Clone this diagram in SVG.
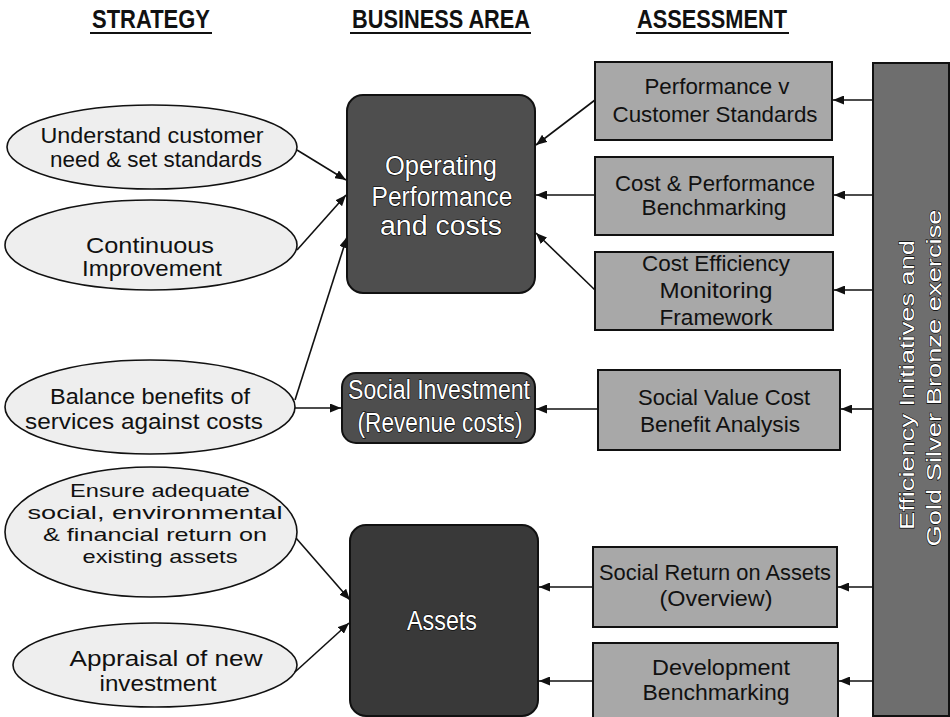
<svg xmlns="http://www.w3.org/2000/svg" width="950" height="717" viewBox="0 0 950 717">
  <style>
    .head { font-family: "Liberation Sans", Arial, sans-serif; font-weight: bold; font-size: 25px; fill: #111; text-anchor: middle; }
    .uline { stroke: #111; stroke-width: 2; }
    .strat { fill: #eeeeee; stroke: #111; stroke-width: 1.6; }
    .stxt { font-family: "Liberation Sans", Arial, sans-serif; font-size: 22px; fill: #111; text-anchor: middle; }
    .stxt4 { font-family: "Liberation Sans", Arial, sans-serif; font-size: 19px; fill: #111; text-anchor: middle; }
    .biz { stroke: #111; stroke-width: 2; }
    .btxt { font-family: "Liberation Sans", Arial, sans-serif; font-size: 27px; fill: #ffffff; stroke: #000; stroke-width: 1.2; paint-order: stroke; text-anchor: middle; }
    .assess { fill: #a8a8a8; stroke: #111; stroke-width: 2; }
    .atxt { font-family: "Liberation Sans", Arial, sans-serif; font-size: 22px; fill: #111; text-anchor: middle; }
    .bar { fill: #6e6e6e; stroke: #111; stroke-width: 2; }
    .vtxt { font-family: "Liberation Sans", Arial, sans-serif; font-size: 21px; fill: #ffffff; stroke: #000; stroke-width: 1; paint-order: stroke; text-anchor: middle; }
    .conn line { stroke: #111; stroke-width: 1.6; marker-end: url(#arrow); }
  </style>
  <defs>
    <marker id="arrow" markerUnits="userSpaceOnUse" markerWidth="11" markerHeight="9" refX="11" refY="4.5" orient="auto">
      <path d="M0,0 L11,4.5 L0,9 z" fill="#111"/>
    </marker>
  </defs>

  <rect x="0" y="0" width="950" height="717" fill="#ffffff"/>

  <!-- Headings -->
  <g id="headings">
    <text class="head" x="151" y="28" textLength="118" lengthAdjust="spacingAndGlyphs">STRATEGY</text>
    <line class="uline" x1="90" y1="33" x2="212" y2="33"/>
    <text class="head" x="441" y="28" textLength="178" lengthAdjust="spacingAndGlyphs">BUSINESS AREA</text>
    <line class="uline" x1="350" y1="33" x2="531" y2="33"/>
    <text class="head" x="712" y="28" textLength="150" lengthAdjust="spacingAndGlyphs">ASSESSMENT</text>
    <line class="uline" x1="636" y1="33" x2="789" y2="33"/>
  </g>

  <!-- Strategy nodes -->
  <g id="s1">
    <ellipse class="strat" cx="152" cy="147" rx="145" ry="42"/>
    <text class="stxt" x="152" y="143" textLength="223" lengthAdjust="spacingAndGlyphs">Understand customer</text>
    <text class="stxt" x="156" y="167" textLength="212" lengthAdjust="spacingAndGlyphs">need &amp; set standards</text>
  </g>
  <g id="s2">
    <ellipse class="strat" cx="151" cy="245" rx="146" ry="45"/>
    <text class="stxt" x="150" y="253" textLength="128" lengthAdjust="spacingAndGlyphs">Continuous</text>
    <text class="stxt" x="152" y="276" textLength="140" lengthAdjust="spacingAndGlyphs">Improvement</text>
  </g>
  <g id="s3">
    <ellipse class="strat" cx="150" cy="407" rx="145" ry="47"/>
    <text class="stxt" x="150" y="404" textLength="200" lengthAdjust="spacingAndGlyphs">Balance benefits of</text>
    <text class="stxt" x="144" y="429" textLength="238" lengthAdjust="spacingAndGlyphs">services against costs</text>
  </g>
  <g id="s4">
    <ellipse class="strat" cx="151" cy="532" rx="146" ry="65"/>
    <text class="stxt4" x="160" y="497" textLength="180" lengthAdjust="spacingAndGlyphs">Ensure adequate</text>
    <text class="stxt4" x="155" y="519" textLength="255" lengthAdjust="spacingAndGlyphs">social, environmental</text>
    <text class="stxt4" x="155" y="541" textLength="224" lengthAdjust="spacingAndGlyphs">&amp; financial return on</text>
    <text class="stxt4" x="160" y="563" textLength="155" lengthAdjust="spacingAndGlyphs">existing assets</text>
  </g>
  <g id="s5">
    <ellipse class="strat" cx="155" cy="665" rx="142" ry="42"/>
    <text class="stxt" x="166" y="666" textLength="193" lengthAdjust="spacingAndGlyphs">Appraisal of new</text>
    <text class="stxt" x="158" y="691" textLength="117" lengthAdjust="spacingAndGlyphs">investment</text>
  </g>

  <!-- Business area nodes -->
  <g id="b1">
    <rect class="biz" x="347" y="95" width="188" height="198" rx="16" fill="#4e4e4e"/>
    <text class="btxt" x="441" y="175" textLength="112" lengthAdjust="spacingAndGlyphs">Operating</text>
    <text class="btxt" x="442" y="206" textLength="141" lengthAdjust="spacingAndGlyphs">Performance</text>
    <text class="btxt" x="441" y="235" textLength="122" lengthAdjust="spacingAndGlyphs">and costs</text>
  </g>
  <g id="b2">
    <rect class="biz" x="342" y="373" width="193" height="70" rx="14" fill="#4e4e4e"/>
    <text class="btxt" x="439" y="399" textLength="182" lengthAdjust="spacingAndGlyphs">Social Investment</text>
    <text class="btxt" x="440" y="432" textLength="165" lengthAdjust="spacingAndGlyphs">(Revenue costs)</text>
  </g>
  <g id="b3">
    <rect class="biz" x="350" y="525" width="188" height="191" rx="16" fill="#393939"/>
    <text class="btxt" x="442" y="630" textLength="70" lengthAdjust="spacingAndGlyphs">Assets</text>
  </g>

  <!-- Assessment nodes -->
  <g id="a1">
    <rect class="assess" x="595" y="62" width="237" height="78"/>
    <text class="atxt" x="717" y="94" textLength="145" lengthAdjust="spacingAndGlyphs">Performance v</text>
    <text class="atxt" x="715" y="122" textLength="205" lengthAdjust="spacingAndGlyphs">Customer Standards</text>
  </g>
  <g id="a2">
    <rect class="assess" x="595" y="157" width="238" height="78"/>
    <text class="atxt" x="715" y="191" textLength="200" lengthAdjust="spacingAndGlyphs">Cost &amp; Performance</text>
    <text class="atxt" x="714" y="215" textLength="145" lengthAdjust="spacingAndGlyphs">Benchmarking</text>
  </g>
  <g id="a3">
    <rect class="assess" x="595" y="252" width="238" height="78"/>
    <text class="atxt" x="716" y="271" textLength="148" lengthAdjust="spacingAndGlyphs">Cost Efficiency</text>
    <text class="atxt" x="716" y="298" textLength="113" lengthAdjust="spacingAndGlyphs">Monitoring</text>
    <text class="atxt" x="716" y="325" textLength="113" lengthAdjust="spacingAndGlyphs">Framework</text>
  </g>
  <g id="a4">
    <rect class="assess" x="598" y="370" width="242" height="80"/>
    <text class="atxt" x="724" y="405" textLength="172" lengthAdjust="spacingAndGlyphs">Social Value Cost</text>
    <text class="atxt" x="720" y="432" textLength="160" lengthAdjust="spacingAndGlyphs">Benefit Analysis</text>
  </g>
  <g id="a5">
    <rect class="assess" x="593" y="547" width="244" height="80"/>
    <text class="atxt" x="715" y="580" textLength="232" lengthAdjust="spacingAndGlyphs">Social Return on Assets</text>
    <text class="atxt" x="716" y="606" textLength="113" lengthAdjust="spacingAndGlyphs">(Overview)</text>
  </g>
  <g id="a6">
    <rect class="assess" x="593" y="643" width="245" height="80"/>
    <text class="atxt" x="721" y="675" textLength="138" lengthAdjust="spacingAndGlyphs">Development</text>
    <text class="atxt" x="716" y="700" textLength="147" lengthAdjust="spacingAndGlyphs">Benchmarking</text>
  </g>

  <!-- Vertical bar node -->
  <g id="bar">
    <rect class="bar" x="873" y="63" width="76" height="653"/>
    <text class="vtxt" transform="translate(914,385) rotate(-90)" x="0" y="0" textLength="290" lengthAdjust="spacingAndGlyphs">Efficiency Initiatives and</text>
    <text class="vtxt" transform="translate(941,378) rotate(-90)" x="0" y="0" textLength="337" lengthAdjust="spacingAndGlyphs">Gold Silver Bronze exercise</text>
  </g>

  <!-- Connectors -->
  <g id="connectors" class="conn">
    <line x1="297" y1="150" x2="346" y2="180"/>
    <line x1="297" y1="250" x2="346" y2="195"/>
    <line x1="295" y1="400" x2="347" y2="237"/>
    <line x1="295" y1="408" x2="341" y2="408"/>
    <line x1="296" y1="538" x2="350" y2="600"/>
    <line x1="295" y1="672" x2="349" y2="623"/>

    <line x1="595" y1="100" x2="536" y2="145"/>
    <line x1="595" y1="195" x2="536" y2="195"/>
    <line x1="595" y1="290" x2="536" y2="233"/>
    <line x1="598" y1="409" x2="536" y2="409"/>
    <line x1="593" y1="587" x2="539" y2="587"/>
    <line x1="593" y1="681" x2="539" y2="681"/>

    <line x1="873" y1="100" x2="833" y2="100"/>
    <line x1="873" y1="195" x2="834" y2="195"/>
    <line x1="873" y1="290" x2="834" y2="290"/>
    <line x1="873" y1="409" x2="841" y2="409"/>
    <line x1="873" y1="587" x2="838" y2="587"/>
    <line x1="873" y1="681" x2="839" y2="681"/>
  </g>
</svg>
